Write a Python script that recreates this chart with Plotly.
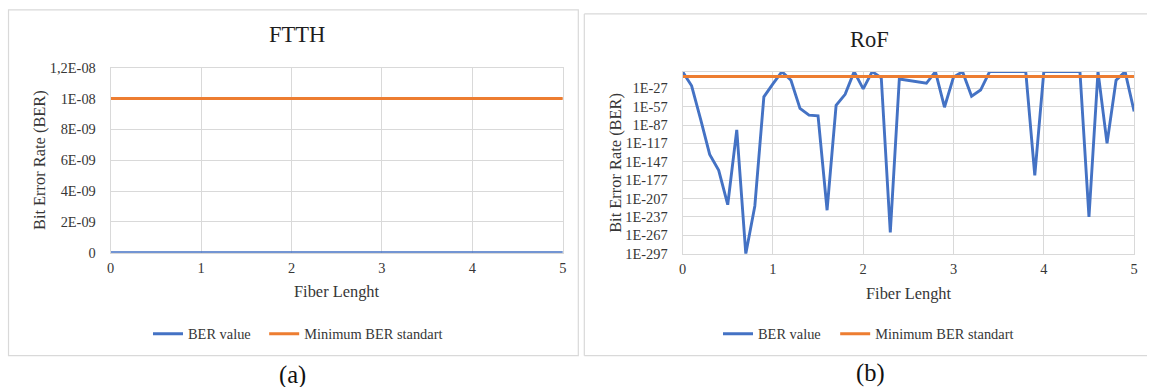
import plotly.graph_objects as go

# ---------------- data ----------------
fiber_length = [0.0, 0.1, 0.2, 0.3, 0.4, 0.5, 0.6, 0.7, 0.8, 0.9,
                1.0, 1.1, 1.2, 1.3, 1.4, 1.5, 1.6, 1.7, 1.8, 1.9,
                2.0, 2.1, 2.2, 2.3, 2.4, 2.5, 2.6, 2.7, 2.8, 2.9,
                3.0, 3.1, 3.2, 3.3, 3.4, 3.5, 3.6, 3.7, 3.8, 3.9,
                4.0, 4.1, 4.2, 4.3, 4.4, 4.5, 4.6, 4.7, 4.8, 4.9,
                5.0]

ftth_ber = [0, 0, 0, 0, 0, 0, 0, 0, 0, 0,
            0, 0, 0, 0, 0, 0, 0, 0, 0, 0,
            0, 0, 0, 0, 0, 0, 0, 0, 0, 0,
            0, 0, 0, 0, 0, 0, 0, 0, 0, 0,
            0, 0, 0, 0, 0, 0, 0, 0, 0, 0,
            0]

rof_ber = [1e0, 1e-23, 1e-78, 1e-135, 1e-161, 1e-217, 1e-95, 1e-297, 1e-219, 1e-41,
           1e-20, 1e0, 1e-14, 1e-60, 1e-71, 1e-72, 1e-226, 1e-55, 1e-37, 1e0,
           1e-28, 1e0, 1e-10, 1e-262, 1e-12, 1e-14, 1e-16, 1e-19, 1e0, 1e-58,
           1e-9, 1e0, 1e-40, 1e-30, 1e0, 1e0, 1e0, 1e0, 1e0, 1e-169,
           1e0, 1e0, 1e0, 1e0, 1e0, 1e-237, 1e0, 1e-117, 1e-14, 1e0,
           1e-65]

min_ber_standard = 1e-8

ftth_ticks = [0, 2e-9, 4e-9, 6e-9, 8e-9, 1e-8, 1.2e-8]
ftth_ticktext = ["0", "2E-09", "4E-09", "6E-09", "8E-09", "1E-08", "1,2E-08"]

rof_ticks = [1e-297, 1e-267, 1e-237, 1e-207, 1e-177, 1e-147, 1e-117, 1e-87, 1e-57, 1e-27]
rof_ticktext = ["1E-297", "1E-267", "1E-237", "1E-207", "1E-177", "1E-147",
                "1E-117", "1E-87", "1E-57", "1E-27"]

x_ticks = [0, 1, 2, 3, 4, 5]

# ---------------- styling ----------------
W, H = 1151, 387
FONT = "Liberation Serif, Times New Roman, serif"
TXT = "#363636"
GRID = "#d9d9d9"
BLUE = "#4472C4"
ORANGE = "#ED7D31"
LW = 2.9

# the photographed page comes out slightly shrunk; positions are pre-compensated
SX, OX = 0.9934, 3.5
SY, OY = 0.958, 7.4


def px_x(p):
    return (p / SX - OX) / W


def px_y(p):
    return 1 - (p / SY - OY) / H


fig = go.Figure()

# FTTH traces
fig.add_trace(go.Scatter(x=fiber_length, y=ftth_ber, mode="lines", name="BER value",
                         line=dict(color=BLUE, width=LW), xaxis="x", yaxis="y",
                         legend="legend"))
fig.add_trace(go.Scatter(x=fiber_length, y=[min_ber_standard] * len(fiber_length), mode="lines",
                         name="Minimum BER standart",
                         line=dict(color=ORANGE, width=LW), xaxis="x", yaxis="y",
                         legend="legend2"))
# RoF traces
fig.add_trace(go.Scatter(x=fiber_length, y=rof_ber, mode="lines", name="BER value",
                         line=dict(color=BLUE, width=LW), xaxis="x2", yaxis="y2",
                         legend="legend3"))
fig.add_trace(go.Scatter(x=fiber_length, y=[min_ber_standard] * len(fiber_length), mode="lines",
                         name="Minimum BER standart",
                         line=dict(color=ORANGE, width=LW), xaxis="x2", yaxis="y2",
                         legend="legend4"))

tickfont = dict(family=FONT, size=14.4, color=TXT)
common_x = dict(range=[0, 5], tickvals=x_ticks, showgrid=True, gridcolor=GRID, gridwidth=1,
                zeroline=False, showline=True, linecolor=GRID, linewidth=1, mirror=True,
                tickfont=tickfont, ticks="", ticklabelstandoff=2, fixedrange=True)
common_y = dict(showgrid=True, gridcolor=GRID, gridwidth=1, zeroline=False,
                showline=True, linecolor=GRID, linewidth=1, mirror=True,
                tickfont=tickfont, ticks="", ticklabelstandoff=11, fixedrange=True)

legend_common = dict(orientation="h", yanchor="middle", xanchor="left",
                     font=dict(family=FONT, size=14.4, color=TXT), bgcolor="rgba(0,0,0,0)",
                     itemwidth=30, tracegroupgap=0)

fig.update_layout(
    width=W, height=H,
    margin=dict(l=0, r=0, t=0, b=0),
    paper_bgcolor="white", plot_bgcolor="white",
    font=dict(family=FONT, color=TXT),
    xaxis=dict(domain=[px_x(110.2), px_x(562.5)], anchor="y", **common_x),
    yaxis=dict(domain=[px_y(251.7), px_y(66.7)], anchor="x", range=[0, 1.2e-8],
               tickvals=ftth_ticks, ticktext=ftth_ticktext, **common_y),
    xaxis2=dict(domain=[px_x(682.3), px_x(1134)], anchor="y2", **common_x),
    yaxis2=dict(domain=[px_y(252.7), px_y(70.7)], anchor="x2", type="log", range=[-297, 0],
                tickvals=rof_ticks, ticktext=rof_ticktext, **common_y),
    legend=dict(x=145 / W, y=px_y(332.7), **legend_common),
    legend2=dict(x=262 / W, y=px_y(332.7), **legend_common),
    legend3=dict(x=719 / W, y=px_y(332.7), **legend_common),
    legend4=dict(x=837 / W, y=px_y(332.7), **legend_common),
    showlegend=True,
)

# chart frames
fig.add_shape(type="rect", xref="paper", yref="paper",
              x0=px_x(8), x1=px_x(578), y0=px_y(354.5), y1=px_y(9),
              line=dict(color=GRID, width=1.2), fillcolor="rgba(0,0,0,0)", layer="below")
for (xa, ya, xb, yb) in [(584, 13, 1151, 13), (584, 13, 584, 354.5), (584, 354.5, 1151, 354.5)]:
    fig.add_shape(type="line", xref="paper", yref="paper",
                  x0=px_x(xa), y0=px_y(ya), x1=min(px_x(xb), 1.0), y1=px_y(yb),
                  line=dict(color=GRID, width=1.2), layer="below")

annos = [
    dict(text="FTTH", x=px_x(296.5), y=px_y(33.5), size=22.5, angle=0, color="#1e1e1e"),
    dict(text="RoF", x=px_x(869.5), y=px_y(39), size=22.5, angle=0, color="#1e1e1e"),
    dict(text="Fiber Lenght", x=px_x(337), y=px_y(290.5), size=16.4, angle=0, color=TXT),
    dict(text="Fiber Lenght", x=px_x(909), y=px_y(292.5), size=16.4, angle=0, color=TXT),
    dict(text="Bit Error Rate (BER)", x=px_x(38.5), y=px_y(159), size=16.4, angle=-90, color=TXT),
    dict(text="Bit Error Rate (BER)", x=px_x(614.5), y=px_y(162), size=16.4, angle=-90, color=TXT),
    dict(text="(a)", x=px_x(292), y=px_y(374), size=24.5, angle=0, color="#111111"),
    dict(text="(b)", x=px_x(870), y=px_y(372), size=24.5, angle=0, color="#111111"),
]
for a in annos:
    fig.add_annotation(text=a["text"], x=a["x"], y=a["y"], xref="paper", yref="paper",
                       xanchor="center", yanchor="middle", showarrow=False,
                       textangle=a["angle"], font=dict(family=FONT, size=a["size"], color=a["color"]))

fig.write_html("out.html",
               config={"displayModeBar": False},
               post_script="document.documentElement.style.margin='0';"
                           "document.body.style.margin='0';"
                           "document.documentElement.style.overflow='hidden';"
                           "document.body.style.overflow='hidden';")
